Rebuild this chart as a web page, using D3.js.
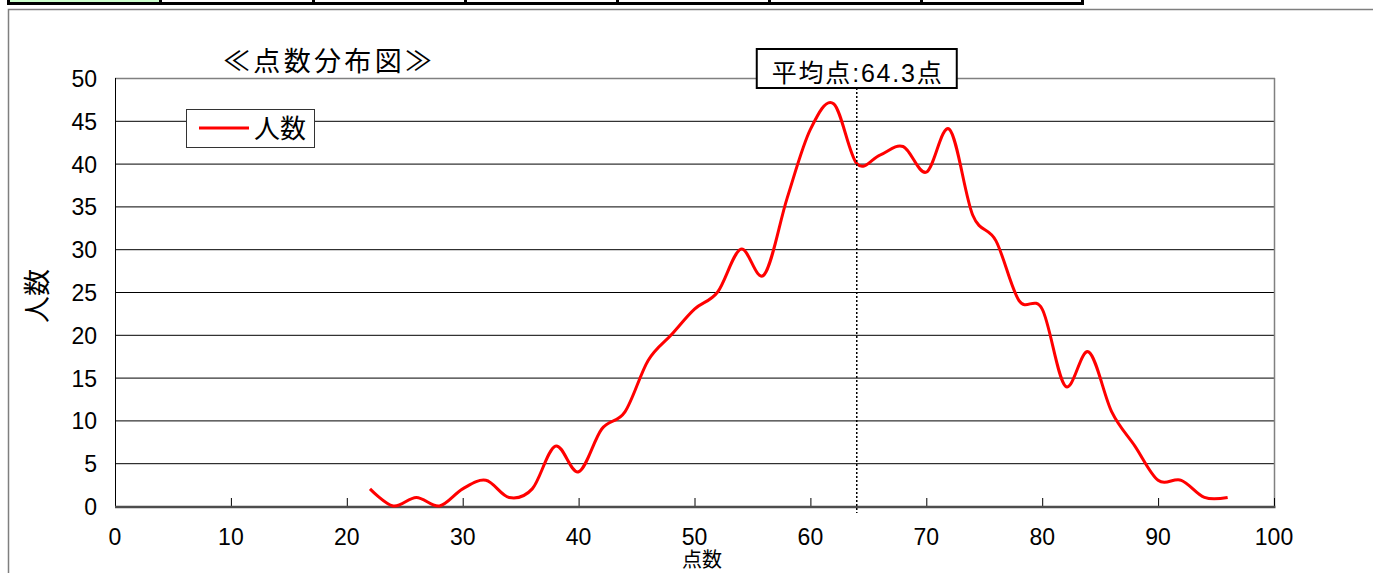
<!DOCTYPE html>
<html>
<head>
<meta charset="utf-8">
<script src="https://cdn.jsdelivr.net/npm/d3@7"></script>
<style>
  html, body { margin: 0; padding: 0; background: #fff; }
  svg { display: block; }
  text { font-family: "Liberation Sans", "Noto Sans CJK JP", sans-serif; fill: #000; }
</style>
</head>
<body>
<svg id="chart" width="1373" height="573"></svg>
<script>
'use strict';
/* 点数分布図: smoothed line of how many people got each score */

// scores (x) and number of people (y)
const scores = [22, 24, 26, 28, 30, 32, 34, 36, 38, 40, 42, 44, 46, 48, 50, 52, 54, 56, 58,
                60, 62, 64, 66, 68, 70, 72, 74, 76, 78, 80, 82, 84, 86, 88, 90, 92, 94, 96];
const counts = [2, 0, 1, 0, 2, 3, 1, 2, 7, 4, 9, 11, 17, 20, 23, 25, 30, 27, 36,
                44, 47, 40, 41, 42, 39, 44, 34, 31, 24, 23, 14, 18, 11, 7, 3, 3, 1, 1];

const xTicks = [0, 10, 20, 30, 40, 50, 60, 70, 80, 90, 100];
const yTicks = [0, 5, 10, 15, 20, 25, 30, 35, 40, 45, 50];

const meanScore = 64.3;   // shown in the label
const meanLineAt = 64;    // where the dotted line sits in the picture

const titleText = '≪点数分布図≫';
const seriesName = '人数';
const xTitle = '点数';
const yTitle = '人数';

// top strip of table cells (left edges)
const stripCells = [8, 160, 313, 465, 617, 769, 921];
const stripEnd = 1084;

var svg = d3.select('#chart');

// strip of cells at the very top
svg.append('rect')
  .attr('x', 7).attr('y', 0).attr('width', stripEnd - 7).attr('height', 5)
  .attr('fill', '#000');
stripCells.forEach(function (cx, i) {
  var next = i + 1 < stripCells.length ? stripCells[i + 1] : stripEnd - 2;
  svg.append('rect')
    .attr('x', cx + 2).attr('y', 0)
    .attr('width', next - cx - 3).attr('height', 2)
    .attr('fill', i === 0 ? '#ccffcc' : '#fff');
});

// chart frame
svg.append('rect')
  .attr('x', 8.5).attr('y', 9.5).attr('width', 1400).attr('height', 600)
  .attr('fill', 'none').attr('stroke', '#7f7f7f').attr('stroke-width', 1.5);

// scales
var x = d3.scaleLinear().domain([0, 100]).range([115, 1274]);
var y = d3.scaleLinear().domain([0, 50]).range([506, 78]);

// gridlines
svg.append('g').selectAll('line')
  .data(yTicks.filter(v => v > 0 && v < 50))
  .enter().append('line')
    .attr('x1', x(0)).attr('x2', x(100))
    .attr('y1', d => y(d) + 0.5).attr('y2', d => y(d) + 0.5)
    .attr('stroke', '#000').attr('stroke-width', 1);

// plot area border: top and right
svg.append('line')
  .attr('x1', x(0)).attr('x2', x(100) + 1)
  .attr('y1', y(50) + 0.5).attr('y2', y(50) + 0.5)
  .attr('stroke', '#808080').attr('stroke-width', 1.5);
svg.append('line')
  .attr('x1', x(100) + 0.5).attr('x2', x(100) + 0.5)
  .attr('y1', y(50)).attr('y2', y(0))
  .attr('stroke', '#808080').attr('stroke-width', 1.5);

// y axis line
svg.append('line')
  .attr('x1', x(0) + 0.5).attr('x2', x(0) + 0.5)
  .attr('y1', y(50)).attr('y2', y(0))
  .attr('stroke', '#000').attr('stroke-width', 1);

// x axis ticks (pointing inward) and line
svg.append('g').selectAll('line')
  .data(xTicks)
  .enter().append('line')
    .attr('x1', d => x(d) + 0.5).attr('x2', d => x(d) + 0.5)
    .attr('y1', y(0) - 8).attr('y2', y(0))
    .attr('stroke', '#000').attr('stroke-width', 1);
svg.append('line')
  .attr('x1', x(0)).attr('x2', x(100) + 1.5)
  .attr('y1', y(0) + 1).attr('y2', y(0) + 1)
  .attr('stroke', '#4d4d4d').attr('stroke-width', 2.5);

// tick labels
svg.append('g').selectAll('text')
  .data(yTicks)
  .enter().append('text')
    .attr('x', 97).attr('y', d => y(d) + 1)
    .attr('text-anchor', 'end').attr('dominant-baseline', 'central')
    .attr('font-size', '23px')
    .text(d => d);
svg.append('g').selectAll('text')
  .data(xTicks)
  .enter().append('text')
    .attr('x', d => x(d)).attr('y', 545)
    .attr('text-anchor', 'middle')
    .attr('font-size', '23px')
    .text(d => d);

// axis titles
svg.append('text')
  .attr('x', 702).attr('y', 567)
  .attr('text-anchor', 'middle')
  .attr('font-size', '20px')
  .text(xTitle);
svg.append('text')
  .attr('transform', 'translate(38,296) rotate(-90)')
  .attr('text-anchor', 'middle').attr('dominant-baseline', 'central')
  .attr('font-size', '27px')
  .text(yTitle);

// the series
var line = d3.line()
  .x((d, i) => x(scores[i]))
  .y(d => y(d))
  .curve(d3.curveCardinal.tension(0));
svg.append('path')
  .datum(counts)
  .attr('d', line)
  .attr('fill', 'none')
  .attr('stroke', '#ff0000')
  .attr('stroke-width', 3)
  .attr('stroke-linejoin', 'round');

// mean marker
svg.append('line')
  .attr('x1', x(meanLineAt)).attr('x2', x(meanLineAt))
  .attr('y1', 88).attr('y2', 513)
  .attr('stroke', '#000').attr('stroke-width', 1.5)
  .attr('stroke-dasharray', '2,2');
svg.append('rect')
  .attr('x', x(meanLineAt) - 100).attr('y', 49)
  .attr('width', 200).attr('height', 39)
  .attr('fill', '#fff').attr('stroke', '#000').attr('stroke-width', 2);
svg.append('text')
  .attr('x', x(meanLineAt)).attr('y', 82)
  .attr('text-anchor', 'middle')
  .attr('font-size', '25px')
  .attr('textLength', 170).attr('lengthAdjust', 'spacing')
  .text('平均点:' + meanScore + '点');

// title
svg.append('text')
  .attr('x', 223).attr('y', 71)
  .attr('font-size', '27px')
  .attr('textLength', 209).attr('lengthAdjust', 'spacing')
  .text(titleText);

// legend
svg.append('rect')
  .attr('x', 186.5).attr('y', 109.5).attr('width', 128).attr('height', 38)
  .attr('fill', '#fff').attr('stroke', '#333').attr('stroke-width', 1);
svg.append('line')
  .attr('x1', 199).attr('x2', 249).attr('y1', 128).attr('y2', 128)
  .attr('stroke', '#ff0000').attr('stroke-width', 3);
svg.append('text')
  .attr('x', 254).attr('y', 138)
  .attr('font-size', '26px')
  .text(seriesName);
</script>
</body>
</html>
